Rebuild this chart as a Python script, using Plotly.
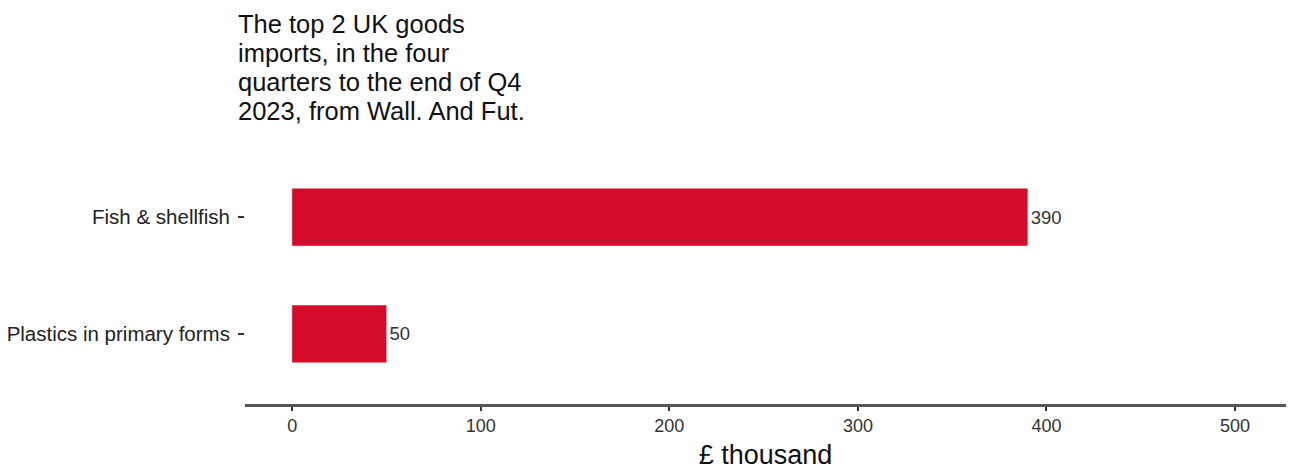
import plotly.graph_objects as go

categories = ["Plastics in primary forms", "Fish & shellfish"]
values = [50, 390]
value_labels = ["50", "390"]
x_ticks = [0, 100, 200, 300, 400, 500]
title_lines = ["The top 2 UK goods", "imports, in the four", "quarters to the end of Q4", "2023, from Wall. And Fut."]

FONT = "Liberation Sans, Arial, sans-serif"

fig = go.Figure(go.Bar(
    y=categories, x=values, orientation="h",
    marker=dict(color="#D20C2A", line=dict(width=0)),
    width=0.49,
    text=value_labels, textposition="outside",
    textfont=dict(family=FONT, size=18.5, color="#333333"),
    cliponaxis=False,
))

title_shifts = [123, 94, 65, 36]
annotations = []
for line, ys in zip(title_lines, title_shifts):
    annotations.append(dict(
        text=line, xref="paper", yref="paper",
        x=0, y=1.0, xshift=-9, yshift=ys, xanchor="left", yanchor="middle",
        align="left", showarrow=False,
        font=dict(family=FONT, size=25.5, color="#111111"),
    ))

fig.update_layout(
    width=1278, height=462,
    margin=dict(l=237, r=0, t=139, b=66),
    paper_bgcolor="white", plot_bgcolor="white",
    showlegend=False,
    font=dict(family=FONT, color="#222222"),
    annotations=annotations,
)
fig.update_xaxes(
    range=[-25, 527], tickvals=x_ticks, ticktext=[str(v) for v in x_ticks],
    showgrid=False, zeroline=False, automargin=False,
    showline=True, linecolor="#555555", linewidth=2.5,
    ticks="outside", ticklen=4, tickcolor="#333333", tickwidth=1.5,
    tickfont=dict(family=FONT, size=18, color="#333333"),
    title=dict(text="£ thousand", font=dict(family=FONT, size=27, color="#111111"), standoff=10),
)
fig.update_yaxes(
    range=[-0.6, 1.6], showgrid=False, zeroline=False, showline=False, automargin=False,
    ticks="outside", ticklen=6, tickcolor="#333333", tickwidth=1.5,
    ticklabelstandoff=4,
    tickfont=dict(family=FONT, size=20.5, color="#222222"),
)
fig.write_html("out.html")
